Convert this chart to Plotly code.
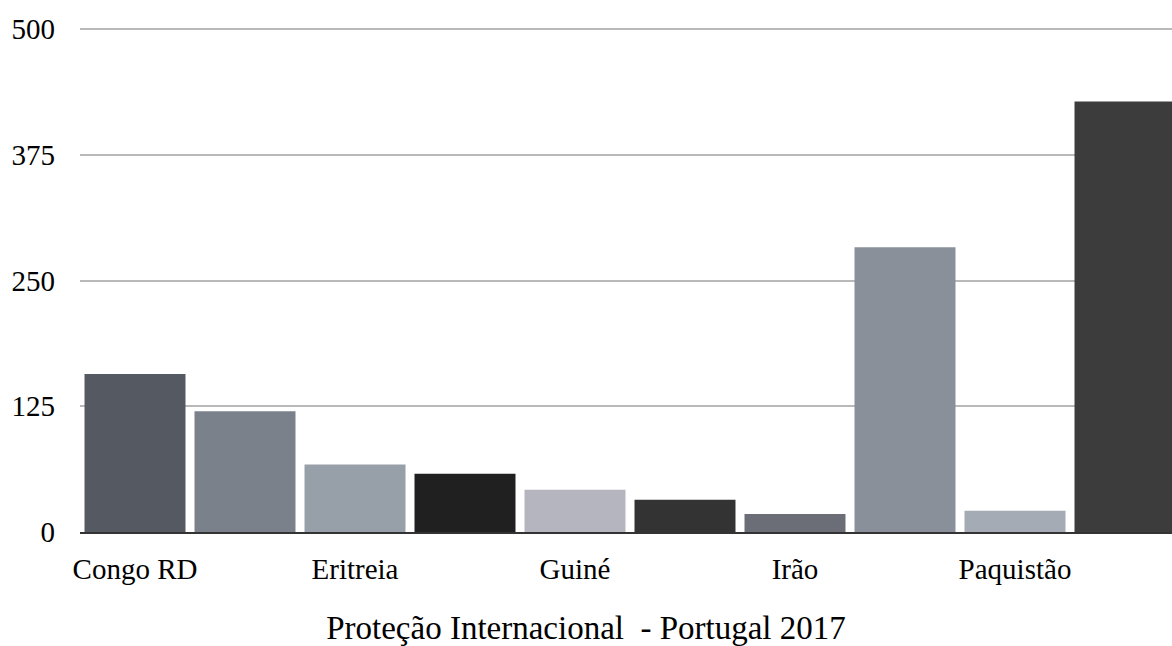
import plotly.graph_objects as go

categories = ["Congo RD", "Egito", "Eritreia", "Gâmbia", "Guiné", "Iémen", "Irão", "Iraque", "Paquistão", "Síria"]
values = [157, 120, 67, 58, 42, 32, 18, 283, 21, 428]
bar_colors = ["#555961", "#7b818a", "#97a0a8", "#202020", "#b5b5c0",
              "#333333", "#6b6e76", "#8a9099", "#a4abb5", "#3c3c3c"]
shown_labels = ["Congo RD", "Eritreia", "Guiné", "Irão", "Paquistão"]
y_ticks = [0, 125, 250, 375, 500]
title_text = "Proteção Internacional  - Portugal 2017"

font_family = "Times New Roman, Liberation Serif, DejaVu Serif, serif"

fig = go.Figure(go.Bar(
    x=categories,
    y=values,
    marker=dict(color=bar_colors, line=dict(width=0)),
    hoverinfo="x+y",
))

fig.update_layout(
    width=1172,
    height=646,
    margin=dict(l=80, r=0, t=28, b=114),
    paper_bgcolor="white",
    plot_bgcolor="white",
    bargap=0.082,
    showlegend=False,
    font=dict(family=font_family, color="#000000"),
    title=dict(
        text=title_text,
        font=dict(family=font_family, size=33, color="#000000"),
        x=0.5, xref="container", xanchor="center",
        y=0.028, yref="container", yanchor="middle",
    ),
)

fig.update_xaxes(
    type="category",
    range=[-0.5, 9.5 - 8 / 110],
    tickmode="array",
    tickvals=shown_labels,
    ticktext=shown_labels,
    tickfont=dict(family=font_family, size=29, color="#000000"),
    showgrid=False,
    showline=True,
    linecolor="#333333",
    linewidth=2,
    ticks="",
    ticklabelstandoff=10,
)

fig.update_yaxes(
    range=[0, 501],
    tickmode="array",
    tickvals=y_ticks,
    tickfont=dict(family=font_family, size=29, color="#000000"),
    showgrid=True,
    gridcolor="#b9b9b9",
    gridwidth=2.3,
    zeroline=False,
    showline=False,
    ticks="",
    ticklabelstandoff=24,
)

fig.write_html("out.html")
